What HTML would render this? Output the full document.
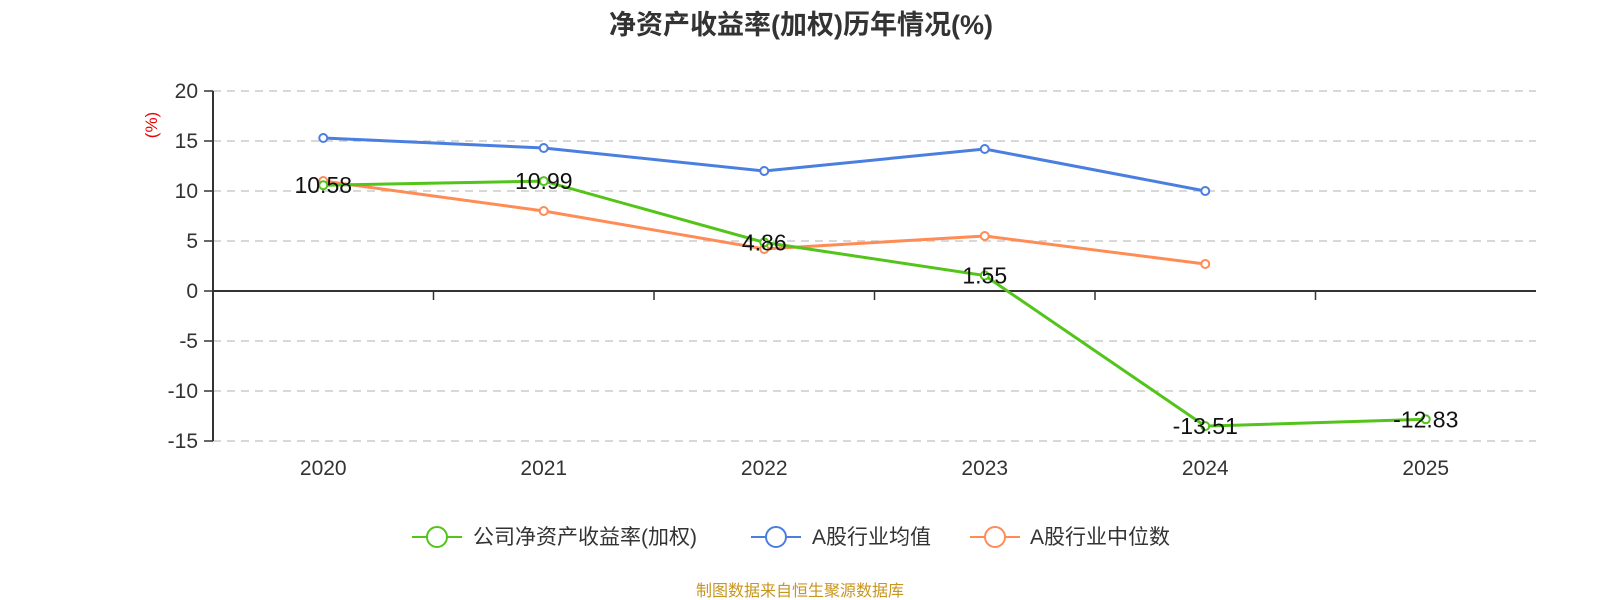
<!DOCTYPE html>
<html><head><meta charset="utf-8"><style>
body{margin:0;background:#fff;}
svg{display:block;font-family:"Liberation Sans","Noto Sans CJK SC",sans-serif;}
</style></head><body>
<svg id="chart" width="1600" height="600" viewBox="0 0 1600 600">
<text x="801" y="34" text-anchor="middle" font-size="27" font-weight="bold" fill="#333">净资产收益率(加权)历年情况(%)</text>
<text transform="translate(157,125) rotate(-90)" text-anchor="middle" font-size="17" fill="#e00">(%)</text>
<g id="grid"></g>
<g id="axes"></g>
<g id="series"></g>
<g id="labels"></g>
<g>
 <g>
  <line x1="412" y1="537" x2="462" y2="537" stroke="#52c41a" stroke-width="2"/><circle cx="437" cy="537" r="10" fill="#fff" stroke="#52c41a" stroke-width="2"/>
  <text x="473" y="544" font-size="21" fill="#333">公司净资产收益率(加权)</text></g>
 <g>
  <line x1="751" y1="537" x2="801" y2="537" stroke="#4a7fe0" stroke-width="2"/><circle cx="776" cy="537" r="10" fill="#fff" stroke="#4a7fe0" stroke-width="2"/>
  <text x="812" y="544" font-size="21" fill="#333">A股行业均值</text></g>
 <g>
  <line x1="970" y1="537" x2="1020" y2="537" stroke="#ff8c55" stroke-width="2"/><circle cx="995" cy="537" r="10" fill="#fff" stroke="#ff8c55" stroke-width="2"/>
  <text x="1030" y="544" font-size="21" fill="#333">A股行业中位数</text></g>
</g>
<text x="800" y="596" text-anchor="middle" font-size="16" fill="#c8951e">制图数据来自恒生聚源数据库</text>
</svg>
<script>
const categories=["2020","2021","2022","2023","2024","2025"];
const companyRoe=[10.58,10.99,4.86,1.55,-13.51,-12.83];
const industryMean=[15.3,14.3,12.0,14.2,10.0];
const industryMedian=[11.0,8.0,4.2,5.5,2.7];
const yTicks=[20,15,10,5,0,-5,-10,-15];
const NS="http://www.w3.org/2000/svg";
const X0=213,X1=1536,Y_TOP=91,Y_BOT=441,YMAX=20,YMIN=-15;
const band=(X1-X0)/categories.length;
const xs=i=>X0+band*(i+0.5);
const ys=v=>Y_TOP+(YMAX-v)/(YMAX-YMIN)*(Y_BOT-Y_TOP);
function mk(tag,attrs,parent){const e=document.createElementNS(NS,tag);for(const k in attrs)e.setAttribute(k,attrs[k]);parent.appendChild(e);return e;}
const grid=document.getElementById('grid'),axes=document.getElementById('axes'),series=document.getElementById('series'),labels=document.getElementById('labels');
yTicks.forEach(t=>{
 const y=ys(t);
 if(t!==0){const g=mk('line',{x1:X0,x2:X1,y1:y,y2:y,stroke:'#ccc','stroke-width':1.5,'stroke-dasharray':'8,6'},grid);
 
 }
 const tk=mk('line',{x1:X0-9,x2:X0,y1:y,y2:y,stroke:'#333','stroke-width':1.5},axes);
 
 
 const tl=mk('text',{x:X0-15,y:y+7,'text-anchor':'end','font-size':21,fill:'#333'},axes);
 tl.textContent=t;
 
 
});
const ya=mk('line',{x1:X0,x2:X0,y1:Y_TOP,y2:Y_BOT,stroke:'#333','stroke-width':2},axes);


const xa=mk('line',{x1:X0,x2:X1,y1:ys(0),y2:ys(0),stroke:'#333','stroke-width':2},axes);


categories.forEach((c,i)=>{
 if(i>0){const tk=mk('line',{x1:X0+band*i,x2:X0+band*i,y1:ys(0),y2:ys(0)+9,stroke:'#333','stroke-width':1.5},axes);
 
 }
 const t=mk('text',{x:xs(i),y:475,'text-anchor':'middle','font-size':21,fill:'#333'},axes);
 t.textContent=c;
 
 
});
function drawSeries(vals,color,name){
 const pts=vals.map((v,i)=>xs(i)+','+ys(v)).join(' ');
 const pl=mk('polyline',{points:pts,fill:'none',stroke:color,'stroke-width':3},series);
 
 
 vals.forEach((v,i)=>{
  const c=mk('circle',{cx:xs(i),cy:ys(v),r:4,fill:'#fff',stroke:color,'stroke-width':2},series);
  
  
 });
}
drawSeries(industryMean,'#4a7fe0','industry-mean');
drawSeries(industryMedian,'#ff8c55','industry-median');
drawSeries(companyRoe,'#52c41a','company-roe');
companyRoe.forEach((v,i)=>{
 const t=mk('text',{x:xs(i),y:ys(v)+8,'text-anchor':'middle','font-size':23,fill:'#111'},labels);
 t.textContent=v.toFixed(2);
 
 
});
</script>
</body></html>
